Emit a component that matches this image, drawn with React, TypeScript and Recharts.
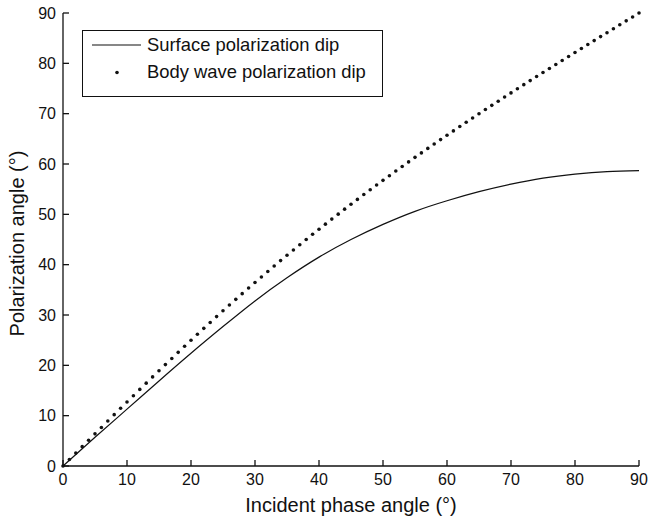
import React from 'react';
import { LineChart, Line, XAxis, YAxis, Legend } from 'recharts';

const FONT = '"Liberation Sans", Arial, Helvetica, sans-serif';
const INK = '#111';

const axisTicks = [0, 10, 20, 30, 40, 50, 60, 70, 80, 90];
const seriesNames = ['Surface polarization dip', 'Body wave polarization dip'];

// solid curve, read every 5 degrees
const surfaceAngle = [0, 5, 10, 15, 20, 25, 30, 35, 40, 45, 50, 55, 60, 65, 70, 75, 80, 85, 90];
const surfaceDip = [0, 5.7, 11.3, 16.9, 22.4, 27.7, 32.8, 37.4, 41.5, 45.0, 48.0, 50.6, 52.7, 54.5, 56.0, 57.2, 58.0, 58.5, 58.7];

// dotted curve, one dot per degree
const bodyAngle = [
    0, 1, 2, 3, 4, 5, 6, 7, 8, 9, 10, 11, 12, 13, 14, 15, 16, 17, 18, 19,
    20, 21, 22, 23, 24, 25, 26, 27, 28, 29, 30, 31, 32, 33, 34, 35, 36, 37, 38, 39,
    40, 41, 42, 43, 44, 45, 46, 47, 48, 49, 50, 51, 52, 53, 54, 55, 56, 57, 58, 59,
    60, 61, 62, 63, 64, 65, 66, 67, 68, 69, 70, 71, 72, 73, 74, 75, 76, 77, 78, 79,
    80, 81, 82, 83, 84, 85, 86, 87, 88, 89, 90
];
const bodyDip = [
    0, 1.28, 2.56, 3.84, 5.11, 6.39, 7.66, 8.93, 10.2, 11.46,
    12.72, 13.97, 15.22, 16.46, 17.7, 18.93, 20.15, 21.37, 22.58, 23.79,
    24.98, 26.17, 27.35, 28.52, 29.68, 30.83, 31.98, 33.11, 34.24, 35.36,
    36.46, 37.56, 38.65, 39.74, 40.81, 41.87, 42.92, 43.97, 45.0, 46.03,
    47.04, 48.05, 49.05, 50.04, 51.03, 52.0, 52.97, 53.93, 54.88, 55.82,
    56.75, 57.68, 58.6, 59.51, 60.42, 61.32, 62.21, 63.1, 63.98, 64.85,
    65.72, 66.58, 67.44, 68.29, 69.14, 69.98, 70.82, 71.65, 72.48, 73.31,
    74.13, 74.94, 75.76, 76.57, 77.37, 78.18, 78.98, 79.78, 80.57, 81.37,
    82.16, 82.95, 83.73, 84.52, 85.31, 86.09, 86.87, 87.66, 88.44, 89.22,
    90
];

const surfaceData = surfaceAngle.map((angle, i) => ({ angle, dip: surfaceDip[i] }));
const bodyData = bodyAngle.map((angle, i) => ({ angle, dip: bodyDip[i] }));

const frame = { stroke: INK, strokeWidth: 1.3 };
const tickText = { fill: INK, fontSize: 16, fontFamily: FONT };

const XTitle = ({ viewBox }: any) => (
    <text
        x={viewBox.x + viewBox.width / 2}
        y={viewBox.y + 46}
        textAnchor="middle"
        fill={INK}
        fontSize={20}
        fontFamily={FONT}
    >
        Incident phase angle (°)
    </text>
);

const YTitle = ({ viewBox }: any) => {
    const cx = viewBox.x + 24;
    const cy = viewBox.y + viewBox.height / 2 + 4;
    return (
        <text
            x={cx}
            y={cy}
            transform={`rotate(-90 ${cx} ${cy})`}
            textAnchor="middle"
            fill={INK}
            fontSize={20}
            fontFamily={FONT}
        >
            Polarization angle (°)
        </text>
    );
};

const LegendBox = () => (
    <div
        style={{
            position: 'relative',
            width: 301,
            height: 67,
            boxSizing: 'border-box',
            border: `1.3px solid ${INK}`,
            background: '#fff',
            fontFamily: FONT,
            fontSize: 18.4,
            color: INK,
        }}
    >
        <svg width={301} height={67} style={{ position: 'absolute', left: -1, top: -1 }}>
            <line x1={10} x2={59} y1={15} y2={15} stroke={INK} strokeWidth={1.2} />
            <circle cx={35} cy={42.5} r={1.8} fill={INK} />
        </svg>
        {seriesNames.map((name, i) => (
            <span
                key={name}
                style={{ position: 'absolute', left: 64, top: i === 0 ? 3 : 30, lineHeight: '22px', whiteSpace: 'nowrap' }}
            >
                {name}
            </span>
        ))}
    </div>
);

const App: React.FC = () => {
    return (
        <div style={{ position: 'absolute', left: 0, top: 0, width: 648, height: 522, background: '#fff' }}>
            <LineChart
                width={648}
                height={522}
                margin={{ top: 13, right: 9, left: 0, bottom: 0 }}
                style={{ fontFamily: FONT }}
            >
                <XAxis
                    type="number"
                    dataKey="angle"
                    domain={[0, 90]}
                    ticks={axisTicks}
                    interval={0}
                    height={56}
                    tickSize={-6}
                    tickMargin={14}
                    axisLine={frame}
                    tickLine={frame}
                    tick={tickText}
                    label={<XTitle />}
                />
                <XAxis
                    xAxisId="top"
                    orientation="top"
                    type="number"
                    dataKey="angle"
                    domain={[0, 90]}
                    ticks={axisTicks}
                    interval={0}
                    height={0}
                    tickSize={-6}
                    axisLine={frame}
                    tickLine={frame}
                    tick={false}
                />
                <YAxis
                    type="number"
                    domain={[0, 90]}
                    ticks={axisTicks}
                    interval={0}
                    width={63}
                    tickSize={-6}
                    tickMargin={13}
                    axisLine={frame}
                    tickLine={frame}
                    tick={tickText}
                    label={<YTitle />}
                />
                <YAxis
                    yAxisId="right"
                    orientation="right"
                    type="number"
                    domain={[0, 90]}
                    ticks={axisTicks}
                    interval={0}
                    width={0}
                    tickSize={-6}
                    axisLine={frame}
                    tickLine={frame}
                    tick={false}
                />
                <Legend
                    layout="horizontal"
                    verticalAlign="middle"
                    align="center"
                    content={<LegendBox />}
                    wrapperStyle={{ left: 82, top: 30, width: 301, height: 67 }}
                />
                <Line
                    data={surfaceData}
                    dataKey="dip"
                    name={seriesNames[0]}
                    type="natural"
                    stroke={INK}
                    strokeWidth={1.2}
                    dot={false}
                    activeDot={false}
                    isAnimationActive={false}
                />
                <Line
                    data={bodyData}
                    dataKey="dip"
                    name={seriesNames[1]}
                    type="linear"
                    stroke="none"
                    dot={{ r: 1.8, fill: INK, stroke: 'none' }}
                    activeDot={false}
                    isAnimationActive={false}
                />
            </LineChart>
        </div>
    );
};

export default App;
